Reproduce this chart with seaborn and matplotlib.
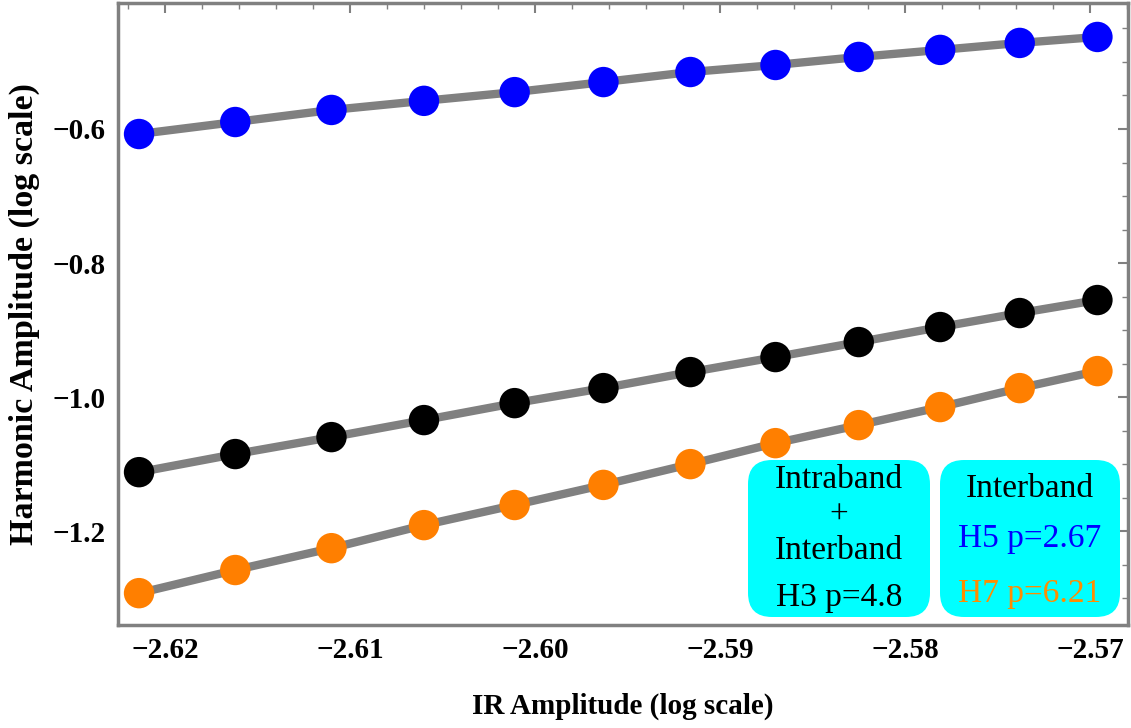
import numpy as np
import pandas as pd
import matplotlib
matplotlib.use("Agg")
import matplotlib.pyplot as plt
from matplotlib.patches import FancyBboxPatch
from matplotlib.ticker import MultipleLocator, FuncFormatter
import seaborn as sns

# IR amplitude (log10) at which harmonics were sampled
ir_amp = [-2.6214, -2.6162, -2.6110, -2.6060, -2.6011, -2.5963,
          -2.5916, -2.5870, -2.5825, -2.5781, -2.5738, -2.5696]
# harmonic amplitudes (log10)
h5 = [-0.6075, -0.5896, -0.5716, -0.5580, -0.5450, -0.5300,
      -0.5150, -0.5045, -0.4925, -0.4820, -0.4716, -0.4627]
h3 = [-1.1120, -1.0850, -1.0597, -1.0343, -1.0090, -0.9866,
      -0.9627, -0.9403, -0.9179, -0.8955, -0.8746, -0.8552]
h7 = [-1.2925, -1.2580, -1.2254, -1.1910, -1.1610, -1.1310,
      -1.1000, -1.0687, -1.0418, -1.0149, -0.9866, -0.9612]

series_names = ["H5", "H3", "H7"]
series_colors = {"H5": "#0000FF", "H3": "#000000", "H7": "#FF7F00"}

df = pd.concat([
    pd.DataFrame({"x": ir_amp, "y": vals, "harmonic": name})
    for name, vals in zip(series_names, [h5, h3, h7])
], ignore_index=True)

sns.set_theme(style="white")
plt.rcParams["font.family"] = ["Liberation Serif", "DejaVu Serif"]
plt.rcParams["text.color"] = "black"
plt.rcParams["axes.labelcolor"] = "black"

fig = plt.figure(figsize=(11.31, 7.28), dpi=100)
ax = fig.add_axes([0.1043, 0.1415, 0.893, 0.8544])

# gray connecting lines under the markers
sns.lineplot(data=df, x="x", y="y", units="harmonic", estimator=None,
             color="#808080", lw=6, ax=ax, zorder=2, legend=False)
sns.scatterplot(data=df, x="x", y="y", hue="harmonic", palette=series_colors,
                s=480, edgecolor="none", linewidth=0, ax=ax, zorder=3,
                legend=False)

ax.set_xlim(-2.62254, -2.56795)
ax.set_ylim(-1.340, -0.412)

ax.xaxis.set_major_locator(MultipleLocator(0.01))
ax.xaxis.set_minor_locator(MultipleLocator(0.002))
ax.yaxis.set_major_locator(MultipleLocator(0.2))
ax.yaxis.set_minor_locator(MultipleLocator(0.05))
ax.xaxis.set_major_formatter(FuncFormatter(lambda v, _: f"{v:.2f}".replace("-", "\u2212")))
ax.yaxis.set_major_formatter(FuncFormatter(lambda v, _: f"{v:.1f}".replace("-", "\u2212")))

ax.tick_params(which="both", direction="in", top=True, right=True,
               color="#808080", labelsize=21, labelcolor="black")
ax.tick_params(which="major", length=7, width=1.5, pad=9)
ax.tick_params(which="minor", length=4, width=1.0)
for lab in ax.get_xticklabels() + ax.get_yticklabels():
    lab.set_fontweight("bold")

for sp in ax.spines.values():
    sp.set_color("#808080")
    sp.set_linewidth(2.5)

ax.set_xlabel("IR Amplitude (log scale)", fontsize=21, fontweight="bold",
              labelpad=20, color="black")
ax.set_ylabel("Harmonic Amplitude (log scale)", fontsize=24.5,
              fontweight="bold", labelpad=9, color="black")

# annotation boxes, placed in figure inches
def px(xp, yp):
    return (xp / 100.0, (728 - yp) / 100.0)

for x0, x1 in [(748, 930), (940, 1120)]:
    bx, by = px(x0, 617)
    box = FancyBboxPatch((bx, by), (x1 - x0) / 100.0, 1.57,
                         boxstyle="round,pad=0,rounding_size=0.24",
                         transform=fig.dpi_scale_trans, facecolor="#00FFFF",
                         edgecolor="none", zorder=4, clip_on=False)
    ax.add_patch(box)

text_items = [
    (839, 480, "Intraband", "black"),
    (839, 515, "+", "black"),
    (839, 551, "Interband", "black"),
    (839, 598, "H3 p=4.8", "black"),
    (1030, 489, "Interband", "black"),
    (1030, 539, "H5 p=2.67", "#0000FF"),
    (1030, 594, "H7 p=6.21", "#FF8C00"),
]
for xp, yp, s, c in text_items:
    tx, ty = px(xp, yp)
    ax.text(tx, ty, s, transform=fig.dpi_scale_trans, ha="center",
            va="center", fontsize=24, color=c, zorder=5, clip_on=False)

fig.savefig("out.png", dpi=100)
